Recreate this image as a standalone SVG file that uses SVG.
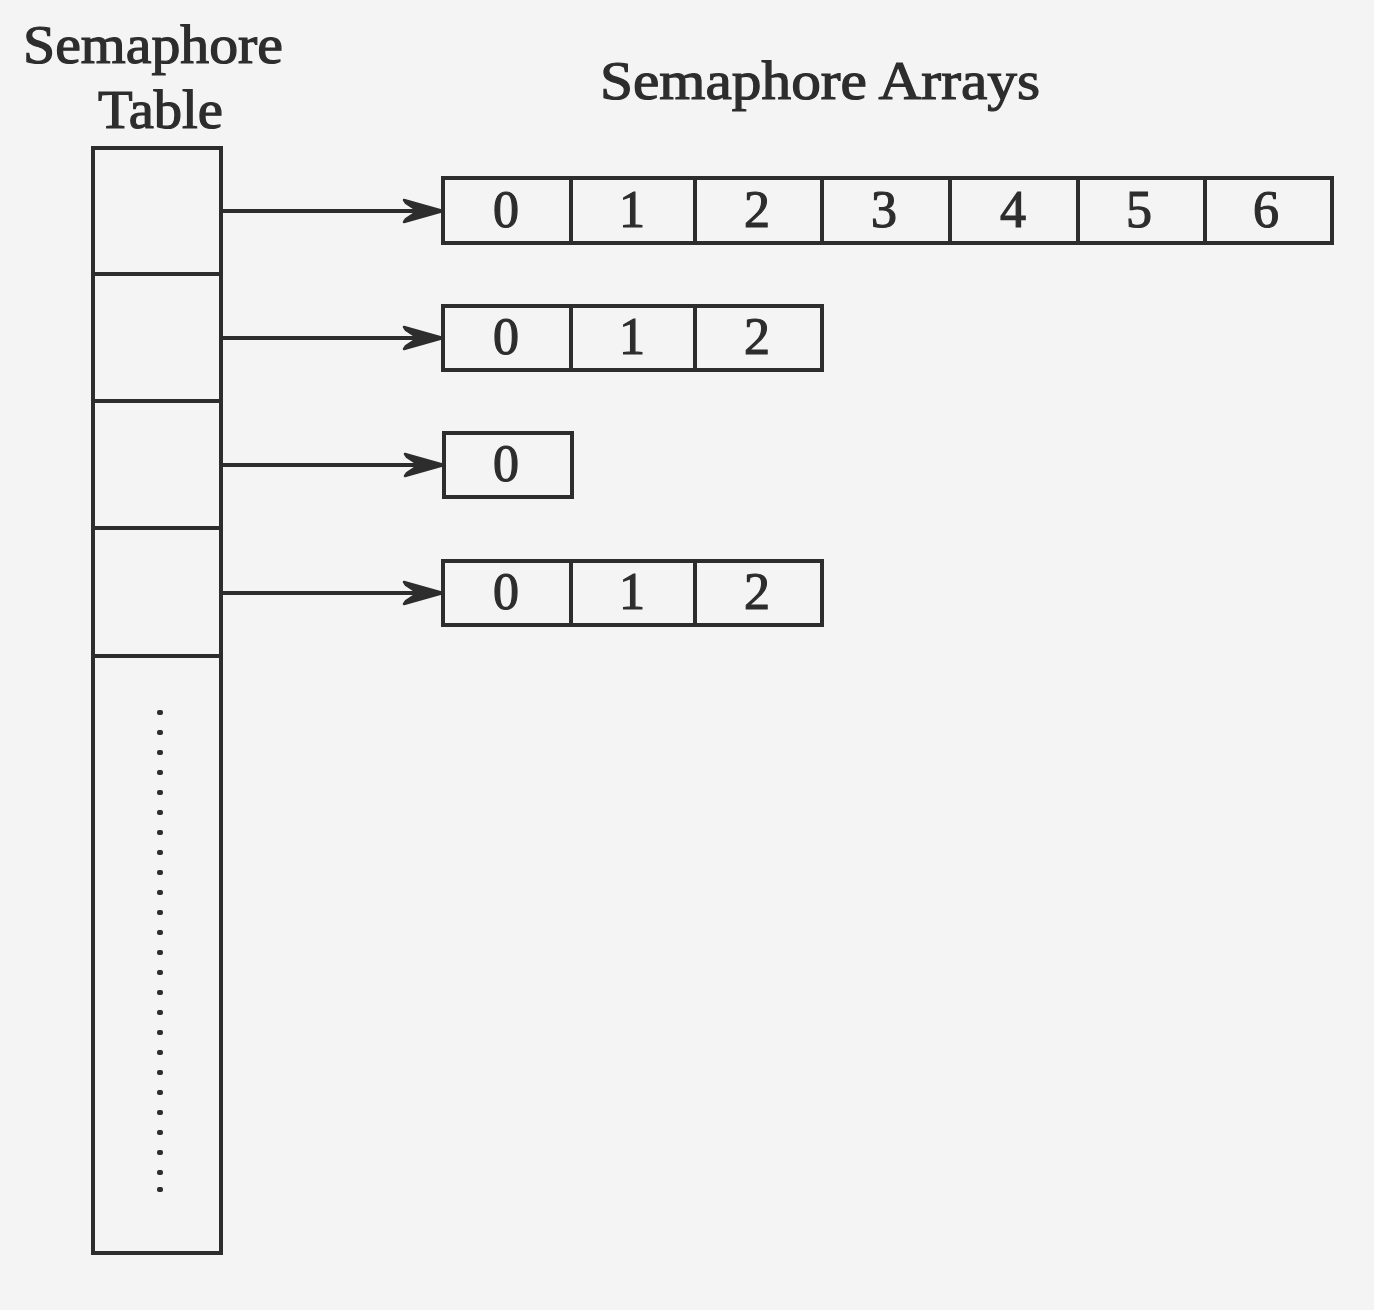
<svg xmlns="http://www.w3.org/2000/svg" width="1374" height="1310" viewBox="0 0 1374 1310">
<defs>
<style>
.ln{stroke:#2d2d2d;stroke-width:4;fill:none}
.bx{stroke:#2d2d2d;stroke-width:4;fill:none}
.t{font-family:"Liberation Serif","Times New Roman",serif;fill:#2d2d2d;stroke:#2d2d2d;stroke-width:1.2}
.lbl{font-size:54px}
.d{font-size:52px;text-anchor:middle}
.dot{fill:#2d2d2d}
</style>
<marker id="ah" markerUnits="userSpaceOnUse" markerWidth="46" markerHeight="30" viewBox="-44 -15 46 30" refX="0" refY="0" orient="auto">
<path d="M0,0 L-39,-11 L-37,-8 L-25,0 L-37,8 L-39,11 Z" fill="#2d2d2d" stroke="#2d2d2d" stroke-width="2.5" stroke-linejoin="round"/>
</marker>
</defs>
<rect width="1374" height="1310" fill="#f4f4f4"/>
<text class="t lbl" x="23" y="63" textLength="260" lengthAdjust="spacingAndGlyphs">Semaphore</text>
<text class="t lbl" x="98" y="128" textLength="125" lengthAdjust="spacingAndGlyphs">Table</text>
<text class="t lbl" x="600" y="99" textLength="440" lengthAdjust="spacingAndGlyphs">Semaphore Arrays</text>
<g id="table">
<rect class="bx" x="93" y="148" width="128" height="1105"/>
<line class="ln" x1="93" y1="274" x2="221" y2="274"/>
<line class="ln" x1="93" y1="401" x2="221" y2="401"/>
<line class="ln" x1="93" y1="528" x2="221" y2="528"/>
<line class="ln" x1="93" y1="656" x2="221" y2="656"/>
<g class="dot">
<rect x="157" y="710" width="6" height="5" rx="2"/><rect x="157" y="730" width="6" height="5" rx="2"/><rect x="157" y="750" width="6" height="5" rx="2"/><rect x="157" y="770" width="6" height="5" rx="2"/><rect x="157" y="790" width="6" height="5" rx="2"/><rect x="157" y="810" width="6" height="5" rx="2"/><rect x="157" y="830" width="6" height="5" rx="2"/><rect x="157" y="850" width="6" height="5" rx="2"/><rect x="157" y="870" width="6" height="5" rx="2"/><rect x="157" y="890" width="6" height="5" rx="2"/><rect x="157" y="910" width="6" height="5" rx="2"/><rect x="157" y="930" width="6" height="5" rx="2"/><rect x="157" y="950" width="6" height="5" rx="2"/><rect x="157" y="970" width="6" height="5" rx="2"/><rect x="157" y="990" width="6" height="5" rx="2"/><rect x="157" y="1010" width="6" height="5" rx="2"/><rect x="157" y="1030" width="6" height="5" rx="2"/><rect x="157" y="1050" width="6" height="5" rx="2"/><rect x="157" y="1070" width="6" height="5" rx="2"/><rect x="157" y="1090" width="6" height="5" rx="2"/><rect x="157" y="1110" width="6" height="5" rx="2"/><rect x="157" y="1130" width="6" height="5" rx="2"/><rect x="157" y="1150" width="6" height="5" rx="2"/><rect x="157" y="1170" width="6" height="5" rx="2"/><rect x="157" y="1187" width="6" height="5" rx="2"/>
</g>
</g>
<g id="array1">
<rect class="bx" x="443" y="178" width="889" height="65"/>
<line class="ln" x1="571" y1="178" x2="571" y2="243"/>
<line class="ln" x1="695" y1="178" x2="695" y2="243"/>
<line class="ln" x1="822" y1="178" x2="822" y2="243"/>
<line class="ln" x1="950" y1="178" x2="950" y2="243"/>
<line class="ln" x1="1078" y1="178" x2="1078" y2="243"/>
<line class="ln" x1="1205" y1="178" x2="1205" y2="243"/>
<text class="t d" x="506" y="227">0</text>
<text class="t d" x="632" y="227">1</text>
<text class="t d" x="757" y="227">2</text>
<text class="t d" x="884" y="227">3</text>
<text class="t d" x="1013" y="227">4</text>
<text class="t d" x="1139" y="227">5</text>
<text class="t d" x="1266" y="227">6</text>
</g>
<g id="array2">
<rect class="bx" x="443" y="306" width="379" height="64"/>
<line class="ln" x1="571" y1="306" x2="571" y2="370"/>
<line class="ln" x1="695" y1="306" x2="695" y2="370"/>
<text class="t d" x="506" y="354">0</text>
<text class="t d" x="632" y="354">1</text>
<text class="t d" x="757" y="354">2</text>
</g>
<g id="array3">
<rect class="bx" x="444" y="433" width="128" height="64"/>
<text class="t d" x="506" y="481">0</text>
</g>
<g id="array4">
<rect class="bx" x="443" y="561" width="379" height="64"/>
<line class="ln" x1="571" y1="561" x2="571" y2="625"/>
<line class="ln" x1="695" y1="561" x2="695" y2="625"/>
<text class="t d" x="506" y="609">0</text>
<text class="t d" x="632" y="609">1</text>
<text class="t d" x="757" y="609">2</text>
</g>
<g id="connectors">
<line class="ln" x1="221" y1="211" x2="443" y2="211" marker-end="url(#ah)"/>
<line class="ln" x1="221" y1="338" x2="443" y2="338" marker-end="url(#ah)"/>
<line class="ln" x1="221" y1="465" x2="444" y2="465" marker-end="url(#ah)"/>
<line class="ln" x1="221" y1="593" x2="443" y2="593" marker-end="url(#ah)"/>
</g>
</svg>
